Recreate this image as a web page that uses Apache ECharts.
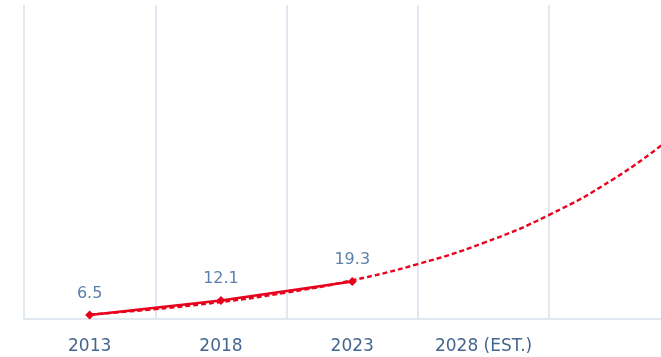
<!DOCTYPE html>
<html>
<head>
<meta charset="utf-8">
<script src="https://cdn.jsdelivr.net/npm/echarts@6/dist/echarts.min.js"></script>
<style>html,body{margin:0;padding:0;background:#fff;overflow:hidden}#c{width:681px;height:357px}</style>
</head>
<body>
<div id="c"></div>
<script>
var categories = ['2013', '2018', '2023', '2028 (EST.)', ''];
var values = [6.5, 12.1, 19.3];
// trend line points: [category position (1 = 2013), value]
var trendX = [1, 1.5, 2, 2.5, 3, 3.5, 4, 4.5, 5, 5.37];
var trendY = [6.7, 8.8, 11.5, 15.1, 19.8, 26.0, 34.1, 44.8, 58.8, 72.0];

var trendData = trendX.map(function (x, i) { return [x, trendY[i]]; });
var chart = echarts.init(document.getElementById('c'), null, { renderer: 'canvas' });
chart.setOption({
  animation: false,
  grid: { left: 24, right: 0.5, top: 5, bottom: 38, containLabel: false },
  xAxis: [{
    type: 'category',
    data: categories,
    boundaryGap: true,
    axisLine: { show: true, lineStyle: { color: '#d9e1ec', width: 1.5 } },
    axisTick: { show: false },
    splitLine: { show: true, lineStyle: { color: '#d9e1ec', width: 1.5 } },
    axisLabel: {
      color: '#44668f', fontFamily: 'DejaVu Sans', fontSize: 17, margin: 19,
      interval: 0
    }
  }, {
    type: 'value', min: 0.5, max: 5.5, show: false
  }],
  yAxis: {
    type: 'value', min: 5, max: 125, show: false,
    splitLine: { show: false }
  },
  series: [{
    type: 'line',
    data: trendData,
    xAxisIndex: 1,
    smooth: true,
    symbol: 'none',
    lineStyle: { color: '#e8001c', width: 2.4, type: [5, 3] },
    z: 2
  }, {
    type: 'line',
    data: values,
    xAxisIndex: 0,
    symbol: 'diamond',
    symbolSize: 9,
    itemStyle: { color: '#e8001c' },
    lineStyle: { color: '#e8001c', width: 2.5 },
    label: {
      show: true, position: 'top', distance: 9,
      color: '#5b80ad', fontFamily: 'DejaVu Sans', fontSize: 16
    },
    z: 3
  }]
});
</script>
</body>
</html>
